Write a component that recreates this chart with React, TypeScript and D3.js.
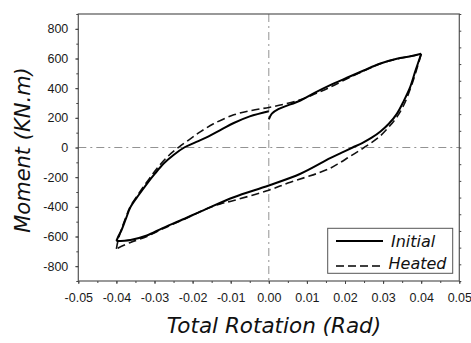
import React, { useEffect, useRef } from 'react'
import * as d3 from 'd3'

// tick labels
const rotationTicks = [-0.05, -0.04, -0.03, -0.02, -0.01, 0, 0.01, 0.02, 0.03, 0.04, 0.05]
const momentTicks = [-800, -600, -400, -200, 0, 200, 400, 600, 800]

// Initial: loading 0 -> 0.04
const initialLoadRot = [0, 0.0008, 0.0025, 0.0083, 0.012, 0.0157, 0.0205, 0.0249, 0.0293, 0.0336, 0.0372, 0.04]
const initialLoadMom = [190, 228, 258, 317, 368, 415, 470, 519, 566, 598, 615, 632]
// Initial: unloading 0.04 -> -0.04
const initialUnloadRot = [0.04, 0.0385, 0.0371, 0.0355, 0.0336, 0.0315, 0.0293, 0.027, 0.0245, 0.022, 0.019, 0.0161, 0.0083, 0, -0.0092, -0.0165, -0.0232, -0.028, -0.032, -0.0363, -0.04]
const initialUnloadMom = [632, 518, 407, 318, 227, 160, 108, 66, 30, 0, -36, -72, -177, -256, -335, -415, -492, -545, -593, -623, -630]
// Initial: reloading -0.04 -> 0
const initialReloadRot = [-0.04, -0.0395, -0.0387, -0.0375, -0.0363, -0.034, -0.032, -0.03, -0.0276, -0.025, -0.0222, -0.019, -0.0158, -0.0125, -0.0092, -0.005, 0]
const initialReloadMom = [-630, -600, -560, -480, -402, -315, -245, -180, -108, -50, 0, 38, 75, 120, 165, 210, 245]

// Heated: rising branch -0.04 -> 0.04
const heatedUpRot = [-0.04, -0.0396, -0.0388, -0.0375, -0.0365, -0.034, -0.0315, -0.029, -0.0265, -0.0235, -0.0205, -0.018, -0.0145, -0.0092, -0.0045, 0, 0.004, 0.0083, 0.012, 0.0157, 0.0205, 0.0249, 0.0293, 0.0336, 0.0372, 0.04]
const heatedUpMom = [-683, -630, -560, -470, -405, -305, -215, -130, -60, 5, 60, 105, 160, 220, 250, 270, 292, 322, 360, 402, 463, 516, 565, 597, 615, 630]
// Heated: falling branch 0.04 -> -0.04
const heatedDownRot = [0.04, 0.0385, 0.0372, 0.0355, 0.0336, 0.0314, 0.029, 0.0265, 0.024, 0.021, 0.0185, 0.0161, 0.013, 0.0095, 0.005, 0, -0.0092, -0.0127, -0.016, -0.0232, -0.028, -0.032, -0.0363, -0.04]
const heatedDownMom = [630, 500, 400, 290, 205, 135, 72, 25, -17, -65, -105, -140, -172, -202, -240, -288, -357, -380, -410, -495, -550, -600, -640, -683]

const zip = (r: number[], m: number[]) => r.map((v, i) => [v, m[i]] as [number, number])

const App = () => {
    const ref = useRef<SVGSVGElement>(null)

    useEffect(() => {
        if (!ref.current) return
        const svg = d3.select(ref.current)
        svg.selectAll('*').remove()

        const x = d3.scaleLinear().domain([-0.05, 0.05]).range([78.3, 459.3])
        const y = d3.scaleLinear().domain([-900, 900]).range([281, 14])
        const tickFont = '"Liberation Sans", Arial, sans-serif'

        // zero reference lines (dash-dot)
        svg.append('line')
            .attr('x1', x(-0.05)).attr('x2', x(0.05))
            .attr('y1', y(0)).attr('y2', y(0))
            .attr('stroke', '#777').attr('stroke-width', 0.8)
            .attr('stroke-dasharray', '8,4,2,4')
        svg.append('line')
            .attr('x1', x(0)).attr('x2', x(0))
            .attr('y1', y(900)).attr('y2', y(-900))
            .attr('stroke', '#777').attr('stroke-width', 0.8)
            .attr('stroke-dasharray', '8,4,2,4')

        // frame
        svg.append('rect')
            .attr('x', x(-0.05)).attr('y', y(900))
            .attr('width', x(0.05) - x(-0.05)).attr('height', y(-900) - y(900))
            .attr('fill', 'none').attr('stroke', '#555').attr('stroke-width', 1.2)

        const styleAxis = (g: any) => {
            g.select('.domain').remove()
            g.selectAll('line').attr('stroke', '#444')
            g.selectAll('text').attr('fill', '#1a1a1a').style('font-family', tickFont).style('font-size', '12.5px')
        }

        // left axis
        svg.append('g').attr('transform', `translate(${x(-0.05)},0)`)
            .call(d3.axisLeft(y).tickValues(d3.range(-900, 901, 100)).tickSize(2).tickFormat(() => ''))
            .call(styleAxis)
        svg.append('g').attr('transform', `translate(${x(-0.05)},0)`)
            .call(d3.axisLeft(y).tickValues(momentTicks).tickSize(3).tickPadding(7).tickFormat((d: any) => String(d)))
            .call(styleAxis)

        // bottom axis
        svg.append('g').attr('transform', `translate(0,${y(-900)})`)
            .call(d3.axisBottom(x).tickValues(d3.range(-10, 11).map(i => i * 0.005)).tickSize(2).tickFormat(() => ''))
            .call(styleAxis)
        svg.append('g').attr('transform', `translate(0,${y(-900)})`)
            .call(d3.axisBottom(x).tickValues(rotationTicks).tickSize(3).tickPadding(9).tickFormat((d: any) => d.toFixed(2)))
            .call(styleAxis)

        // right axis ticks
        const yr = d3.scaleLinear().domain([0, 16]).range([281, 14])
        svg.append('g').attr('transform', `translate(${x(0.05)},0)`)
            .call(d3.axisRight(yr).tickValues(d3.range(0, 17)).tickSize(2).tickFormat(() => ''))
            .call(styleAxis)

        // curves
        const line = d3.line<[number, number]>()
            .x(d => x(d[0]))
            .y(d => y(d[1]))
            .curve(d3.curveCatmullRom.alpha(0.5))

        const heated = [zip(heatedUpRot, heatedUpMom), zip(heatedDownRot, heatedDownMom)]
        svg.selectAll('path.heated')
            .data(heated)
            .join('path')
            .attr('class', 'heated')
            .attr('d', line)
            .attr('fill', 'none')
            .attr('stroke', '#111')
            .attr('stroke-width', 1.6)
            .attr('stroke-dasharray', '8,4')

        const initial = [
            zip(initialLoadRot, initialLoadMom),
            zip(initialUnloadRot, initialUnloadMom),
            zip(initialReloadRot, initialReloadMom),
        ]
        svg.selectAll('path.initial')
            .data(initial)
            .join('path')
            .attr('class', 'initial')
            .attr('d', line)
            .attr('fill', 'none')
            .attr('stroke', '#000')
            .attr('stroke-width', 2)

        // legend
        const lg = svg.append('g')
        lg.append('rect')
            .attr('x', 327.7).attr('y', 228.3).attr('width', 125).attr('height', 45)
            .attr('fill', '#fff').attr('stroke', '#555').attr('stroke-width', 1)
        lg.append('line').attr('x1', 336).attr('x2', 383).attr('y1', 241).attr('y2', 241)
            .attr('stroke', '#000').attr('stroke-width', 2)
        lg.append('line').attr('x1', 336).attr('x2', 383).attr('y1', 266).attr('y2', 266)
            .attr('stroke', '#000').attr('stroke-width', 1.6).attr('stroke-dasharray', '8,4')
        lg.append('text').attr('x', 391).attr('y', 247).text('Initial')
            .style('font-family', '"DejaVu Sans", sans-serif').style('font-style', 'italic').style('font-size', '16px').attr('fill', '#111')
        lg.append('text').attr('x', 388.5).attr('y', 269).text('Heated')
            .style('font-family', '"DejaVu Sans", sans-serif').style('font-style', 'italic').style('font-size', '16px').attr('fill', '#111')

        // axis titles
        svg.append('text')
            .attr('x', 274).attr('y', 333)
            .attr('text-anchor', 'middle')
            .style('font-family', '"DejaVu Sans", sans-serif').style('font-style', 'italic').style('font-size', '21.5px')
            .attr('fill', '#111')
            .text('Total Rotation (Rad)')
        svg.append('text')
            .attr('transform', 'translate(30,150) rotate(-90)')
            .attr('text-anchor', 'middle')
            .style('font-family', '"DejaVu Sans", sans-serif').style('font-style', 'italic').style('font-size', '21px')
            .attr('fill', '#111')
            .text('Moment (KN.m)')
    }, [])

    return (
        <svg
            ref={ref}
            width={471}
            height={343}
            style={{ position: 'absolute', left: 0, top: 0, background: '#fff' }}
        />
    )
}

export default App
